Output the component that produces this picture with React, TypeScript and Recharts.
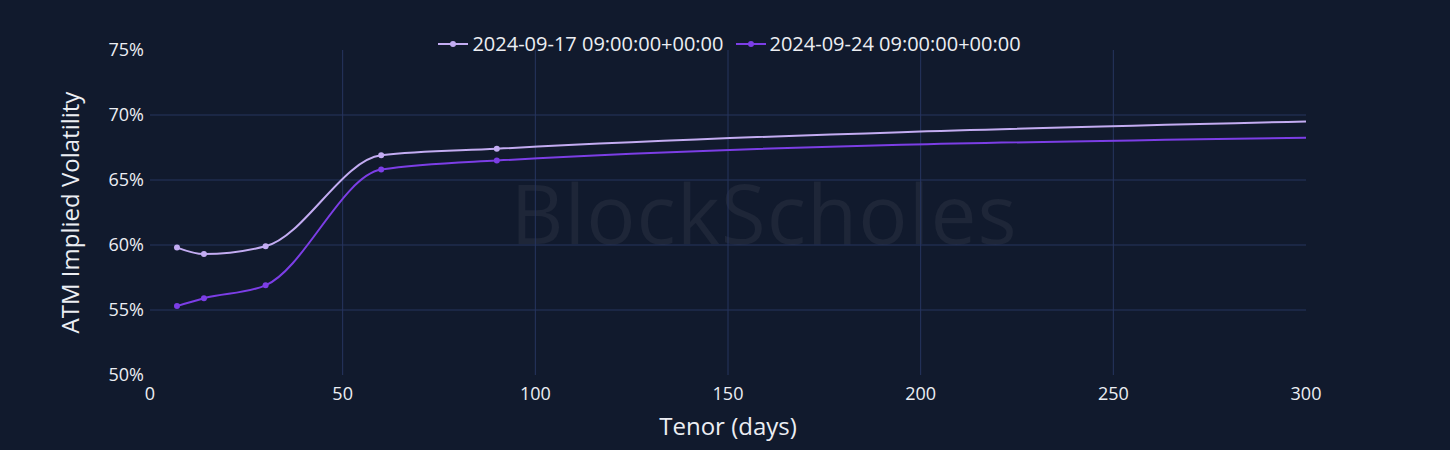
import { CartesianGrid, Line, LineChart, XAxis, YAxis } from "recharts";

// tenor in days
const tenors = [7, 14, 30, 60, 90, 300];
const vol0917 = [59.8, 59.3, 59.9, 66.9, 67.4, 69.5];
const vol0924 = [55.3, 55.9, 56.9, 65.8, 66.5, 68.25];

const seriesNames = ["2024-09-17 09:00:00+00:00", "2024-09-24 09:00:00+00:00"];
const seriesColors = ["#c3acf2", "#7c3ee6"];

const xTicks = [0, 50, 100, 150, 200, 250, 300];
const yTicks = [50, 55, 60, 65, 70, 75];

const data = tenors.map((t, i) => ({ tenor: t, a: vol0917[i], b: vol0924[i] }));

const bg = "#111a2d";
const fg = "#eceef3";
const font = "'Open Sans', 'Noto Sans', sans-serif";
const W = 1450;
const H = 450;

if (typeof document !== "undefined") {
  document.body.style.margin = "0";
  document.body.style.background = bg;
}

// the last point sits on the axis edge, drawn without a marker
const makeDot = (color: string) => (props: any) => {
  const { cx, cy, index } = props;
  if (index === tenors.length - 1) return <g key={`d${index}`} />;
  return <circle key={`d${index}`} cx={cx} cy={cy} r={3} fill={color} />;
};

const LegendTop = () => (
  <div
    style={{
      position: "absolute",
      top: 31,
      left: 0,
      width: W,
      display: "flex",
      justifyContent: "center",
      gap: 11,
      fontFamily: font,
      fontSize: 20,
      lineHeight: "26px",
      color: fg,
      paddingLeft: 4,
    }}
  >
    {seriesNames.map((n, i) => (
      <div key={n} style={{ display: "flex", alignItems: "center" }}>
        <svg width={32} height={12} style={{ marginRight: 3 }}>
          <line x1={1} y1={6} x2={31} y2={6} stroke={seriesColors[i]} strokeWidth={2} />
          <circle cx={16} cy={6} r={3} fill={seriesColors[i]} />
        </svg>
        <span>{n}</span>
      </div>
    ))}
  </div>
);

export default function App() {
  return (
    <div style={{ position: "relative", width: W, height: H, background: bg, overflow: "hidden" }}>
      <div
        style={{
          position: "absolute",
          left: 464,
          top: 162,
          width: 600,
          textAlign: "center",
          fontFamily: font,
          fontSize: 82,
          lineHeight: "100px",
          color: "#1e2638",
          letterSpacing: 1,
        }}
      >
        BlockScholes
      </div>
      <LegendTop />
      <LineChart
        width={W}
        height={H}
        data={data}
        margin={{ top: 50, right: 144, bottom: 0, left: 58 }}
        style={{ position: "absolute", left: 0, top: 0 }}
      >
        <CartesianGrid
          stroke="#27355f"
          strokeWidth={1}
          horizontalValues={[55, 60, 65, 70]}
          verticalValues={[50, 100, 150, 200, 250]}
        />
        <XAxis
          dataKey="tenor"
          type="number"
          domain={[0, 300]}
          ticks={xTicks}
          allowDataOverflow
          tickLine={false}
          axisLine={false}
          tick={{ fill: fg, fontSize: 18, fontFamily: font }}
          tickMargin={6}
          height={75}
          label={{
            value: "Tenor (days)",
            position: "insideBottom",
            offset: 15,
            fill: fg,
            fontSize: 24,
            fontFamily: font,
          }}
        />
        <YAxis
          type="number"
          domain={[50, 75]}
          ticks={yTicks}
          allowDataOverflow
          tickLine={false}
          axisLine={false}
          tickSize={0}
          tickFormatter={(v) => `${v}%`}
          tick={{ fill: fg, fontSize: 18, fontFamily: font }}
          tickMargin={6}
          width={92}
          label={{
            value: "ATM Implied Volatility",
            angle: -90,
            position: "insideLeft",
            offset: 12,
            style: { textAnchor: "middle" },
            fill: fg,
            fontSize: 24,
            fontFamily: font,
          }}
        />
        <Line
          dataKey="a"
          type="monotone"
          stroke={seriesColors[0]}
          strokeWidth={2}
          dot={makeDot(seriesColors[0])}
          activeDot={false}
          isAnimationActive={false}
        />
        <Line
          dataKey="b"
          type="monotone"
          stroke={seriesColors[1]}
          strokeWidth={2}
          dot={makeDot(seriesColors[1])}
          activeDot={false}
          isAnimationActive={false}
        />
      </LineChart>
    </div>
  );
}
